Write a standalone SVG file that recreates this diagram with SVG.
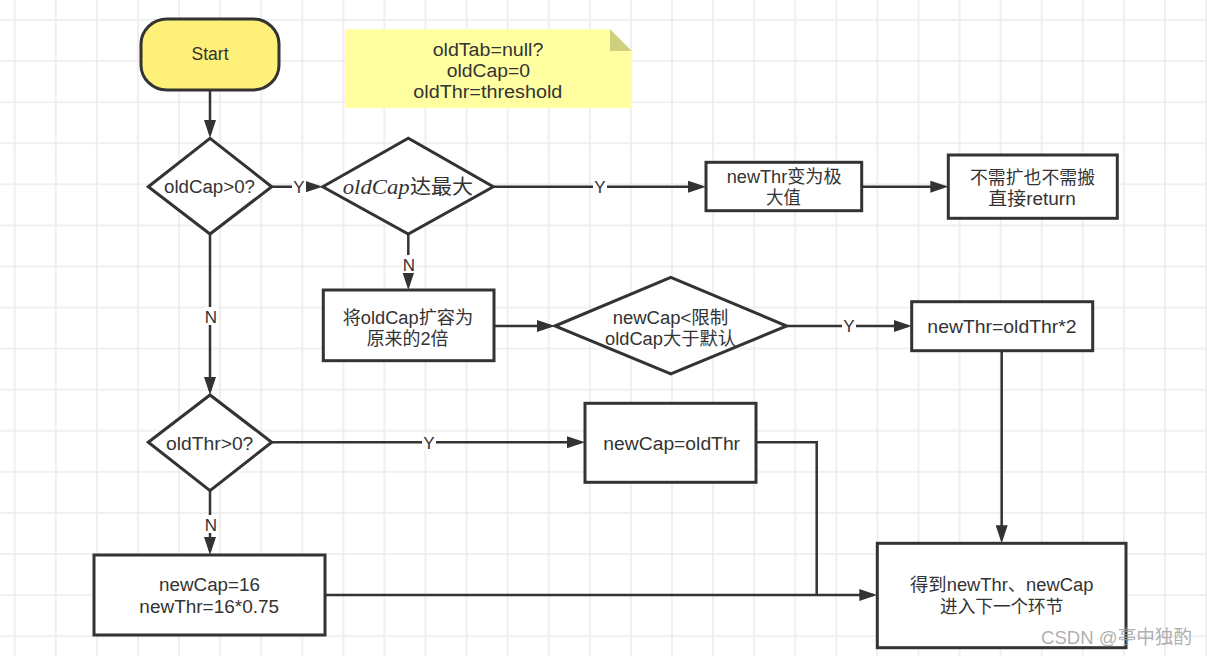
<svg xmlns="http://www.w3.org/2000/svg" width="1207" height="656" viewBox="0 0 1207 656">
<style>
.shape{fill:#ffffff;stroke:#333333;stroke-width:3}
.t{font-family:"Liberation Sans","Noto Sans CJK SC",sans-serif;font-size:18px;fill:#333333;text-anchor:middle}
.lbl{font-family:"Liberation Sans","Noto Sans CJK SC",sans-serif;font-size:17px;fill:#333333;text-anchor:middle}
.conn{fill:none;stroke:#333333;stroke-width:2.5}
.arr{marker-end:url(#ah)}
.lbg{fill:#ffffff}
</style>
<defs>
<pattern id="grid" patternUnits="userSpaceOnUse" x="-5.84" y="-0.54" width="41.08" height="41.08">
<path d="M0,20.54 H41.08 M20.54,0 V41.08" stroke="#ebebeb" stroke-width="1.5" fill="none"/>
</pattern>
<marker id="ah" markerUnits="userSpaceOnUse" markerWidth="18" markerHeight="12" refX="14" refY="6" orient="auto">
<path d="M0,0 L18,6 L0,12 Z" fill="#333333"/>
</marker>
</defs>
<rect x="0" y="0" width="1207" height="656" fill="#ffffff"/>
<rect x="0" y="0" width="1207" height="656" fill="url(#grid)"/>

<g id="connectors">
<path class="conn arr" d="M210,91 V134"/>
<path class="conn arr" d="M271.7,186.7 H318.7"/>
<path class="conn arr" d="M493.3,186.7 H702"/>
<path class="conn arr" d="M861.7,186.7 H944.3"/>
<path class="conn arr" d="M408.3,234 V286"/>
<path class="conn arr" d="M494,326 H551"/>
<path class="conn arr" d="M786.7,326 H907.7"/>
<path class="conn arr" d="M1001.7,350.7 V539.3"/>
<path class="conn arr" d="M210,234 V391"/>
<path class="conn arr" d="M271.7,442.3 H581"/>
<path class="conn arr" d="M210,490.7 V551"/>
<path class="conn" d="M756,442.3 H816.7 V595"/>
<path class="conn arr" d="M325,595 H873.3"/>
<rect class="lbg" x="292" y="178" width="14" height="18"/>
<text class="lbl" x="299" y="193">Y</text>
<rect class="lbg" x="593" y="178" width="14" height="18"/>
<text class="lbl" x="600" y="193">Y</text>
<rect class="lbg" x="842" y="317" width="14" height="18"/>
<text class="lbl" x="849" y="332">Y</text>
<rect class="lbg" x="422" y="433" width="14" height="18"/>
<text class="lbl" x="429" y="448.5">Y</text>
<rect class="lbg" x="402" y="255" width="14" height="18"/>
<text class="lbl" x="409" y="270.5">N</text>
<rect class="lbg" x="204" y="307" width="14" height="18"/>
<text class="lbl" x="211" y="323">N</text>
<rect class="lbg" x="204" y="515" width="14" height="18"/>
<text class="lbl" x="211" y="531">N</text>
</g>

<g id="start">
<rect x="141" y="19" width="138" height="71" rx="26" ry="25" fill="#fff07a" stroke="#333333" stroke-width="3"/>
<text class="t" x="210" y="60" textLength="37" lengthAdjust="spacingAndGlyphs">Start</text>
</g>

<g id="note">
<polygon points="345,29.3 610,29.3 631.7,51 631.7,108 345,108" fill="#ffffa2"/>
<polygon points="610,29.3 631.7,51 610,51" fill="#cfcf7e"/>
<text class="t"><tspan x="488" y="55.5" textLength="110.7" lengthAdjust="spacingAndGlyphs">oldTab=null?</tspan><tspan x="488.3" y="76.5" textLength="83.3" lengthAdjust="spacingAndGlyphs">oldCap=0</tspan><tspan x="487.8" y="97.5" textLength="149" lengthAdjust="spacingAndGlyphs">oldThr=threshold</tspan></text>
</g>

<g id="d1">
<polygon class="shape" points="148.3,186.7 210,138.3 271.7,186.7 210,234"/>
<text class="t" x="209.5" y="193.3" textLength="91" lengthAdjust="spacingAndGlyphs">oldCap&gt;0?</text>
</g>

<g id="d2">
<polygon class="shape" points="322.7,186.7 408.3,138.3 493.3,186.7 408.3,234"/>
<text fill="#333333"><tspan x="342.7" y="193.5" font-family="'Liberation Serif','DejaVu Serif',serif" font-style="italic" font-size="21" textLength="67" lengthAdjust="spacingAndGlyphs">oldCap</tspan><tspan x="410" y="193.5" font-family="'Noto Sans CJK SC',sans-serif" font-size="20" textLength="63" lengthAdjust="spacingAndGlyphs">达最大</tspan></text>
</g>

<g id="maxthr">
<rect class="shape" x="706" y="162.3" width="155.7" height="48.4"/>
<text class="t"><tspan x="784.2" y="183" textLength="115" lengthAdjust="spacingAndGlyphs">newThr变为极</tspan><tspan x="783.4" y="204" textLength="34.7" lengthAdjust="spacingAndGlyphs">大值</tspan></text>
</g>

<g id="noresize">
<rect class="shape" x="948.3" y="155" width="169" height="63.3"/>
<text class="t"><tspan x="1032.5" y="183.5" textLength="125" lengthAdjust="spacingAndGlyphs">不需扩也不需搬</tspan><tspan x="1032" y="204.5" textLength="87.4" lengthAdjust="spacingAndGlyphs">直接return</tspan></text>
</g>

<g id="double">
<rect class="shape" x="323.3" y="290" width="170.7" height="70.7"/>
<text class="t"><tspan x="408" y="324" textLength="130.7" lengthAdjust="spacingAndGlyphs">将oldCap扩容为</tspan><tspan x="407.5" y="345" textLength="81.7" lengthAdjust="spacingAndGlyphs">原来的2倍</tspan></text>
</g>

<g id="d3">
<polygon class="shape" points="555,326 670.8,277.3 786.7,326 670.8,374"/>
<text class="t"><tspan x="670.5" y="324" textLength="115.7" lengthAdjust="spacingAndGlyphs">newCap&lt;限制</tspan><tspan x="670.5" y="345" textLength="131" lengthAdjust="spacingAndGlyphs">oldCap大于默认</tspan></text>
</g>

<g id="thr2">
<rect class="shape" x="911.7" y="301.7" width="181" height="49"/>
<text class="t" x="1002" y="333" textLength="149.3" lengthAdjust="spacingAndGlyphs">newThr=oldThr*2</text>
</g>

<g id="d4">
<polygon class="shape" points="148.3,442.3 210,395 271.7,442.3 210,490.7"/>
<text class="t" x="209.7" y="450" textLength="87.3" lengthAdjust="spacingAndGlyphs">oldThr&gt;0?</text>
</g>

<g id="capthr">
<rect class="shape" x="585" y="403.3" width="171" height="79"/>
<text class="t" x="671.7" y="450" textLength="136.7" lengthAdjust="spacingAndGlyphs">newCap=oldThr</text>
</g>

<g id="default">
<rect class="shape" x="94" y="555" width="231" height="80"/>
<text class="t"><tspan x="209.5" y="590.7" textLength="101" lengthAdjust="spacingAndGlyphs">newCap=16</tspan><tspan x="209.2" y="612.7" textLength="139.7" lengthAdjust="spacingAndGlyphs">newThr=16*0.75</tspan></text>
</g>

<g id="final">
<rect class="shape" x="877.3" y="543.3" width="248.7" height="104.4"/>
<text class="t"><tspan x="1001.7" y="591" textLength="183.3" lengthAdjust="spacingAndGlyphs">得到newThr、newCap</tspan><tspan x="1001.7" y="612.7" textLength="123.3" lengthAdjust="spacingAndGlyphs">进入下一个环节</tspan></text>
</g>

<text x="1041" y="644" font-family="'Liberation Sans','Noto Sans CJK SC',sans-serif" font-size="19" fill="#9a9a9a" fill-opacity="0.8" textLength="151" lengthAdjust="spacingAndGlyphs">CSDN @亭中独酌</text>
</svg>
